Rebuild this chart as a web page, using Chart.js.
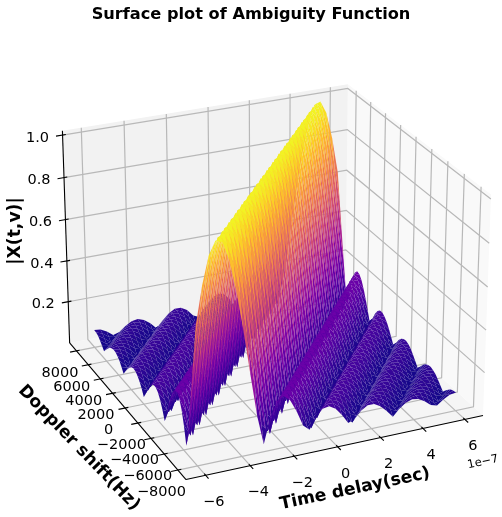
<!DOCTYPE html>
<html>
<head>
<meta charset="utf-8">
<script src="https://cdn.jsdelivr.net/npm/chart.js@4/dist/chart.umd.min.js"></script>
<style>
  html, body { margin: 0; padding: 0; background: #fff; }
  canvas { display: block; }
</style>
</head>
<body>
<canvas id="surface-chart" width="502" height="517"></canvas>
<script>
// tick labels, delay in units of 1e-7 s
const delayTicks = [-6, -4, -2, 0, 2, 4, 6];
const dopplerTicks = [-8000, -6000, -4000, -2000, 0, 2000, 4000, 6000, 8000];
const ampTicks = [0.2, 0.4, 0.6, 0.8, 1.0];

// surface sample positions
const delayGrid = [-6, -5.7, -5.4, -5.1, -4.8, -4.5, -4.2, -3.9, -3.6, -3.3, -3, -2.7, -2.4, -2.1,
    -1.8, -1.5, -1.2, -0.9, -0.6, -0.3, 0, 0.3, 0.6, 0.9, 1.2, 1.5, 1.8, 2.1,
    2.4, 2.7, 3, 3.3, 3.6, 3.9, 4.2, 4.5, 4.8, 5.1, 5.4, 5.7, 6];
const dopplerGrid = [-8000, -7680, -7360, -7040, -6720, -6400, -6080, -5760, -5440, -5120, -4800, -4480, -4160,
    -3840, -3520, -3200, -2880, -2560, -2240, -1920, -1600, -1280, -960, -640, -320, 0,
    320, 640, 960, 1280, 1600, 1920, 2240, 2560, 2880, 3200, 3520, 3840, 4160,
    4480, 4800, 5120, 5440, 5760, 6080, 6400, 6720, 7040, 7360, 7680, 8000];
// where the ridge crest sits in delay, one entry per doppler row
const ridgeCentre = [-5, -4.8, -4.6, -4.4, -4.2, -4, -3.8, -3.6, -3.4, -3.2, -3, -2.8, -2.6,
    -2.4, -2.2, -2, -1.8, -1.6, -1.4, -1.2, -1, -0.8, -0.6, -0.4, -0.2, 0,
    0.2, 0.4, 0.6, 0.8, 1, 1.2, 1.4, 1.6, 1.8, 2, 2.2, 2.4, 2.6,
    2.8, 3, 3.2, 3.4, 3.6, 3.8, 4, 4.2, 4.4, 4.6, 4.8, 5];
// |X| against distance from the crest, one entry per 0.1 of delay
const ridgeProfile = [
    1, 0.996, 0.984, 0.963, 0.936, 0.9, 0.858, 0.81, 0.757, 0.699,
    0.637, 0.572, 0.505, 0.436, 0.368, 0.3, 0.234, 0.17, 0.109, 0.06,
    0.03, 0.075, 0.115, 0.15, 0.178, 0.201, 0.218, 0.23, 0.235, 0.236,
    0.231, 0.223, 0.21, 0.193, 0.174, 0.153, 0.129, 0.104, 0.079, 0.055,
    0.03, 0.052, 0.072, 0.09, 0.107, 0.12, 0.131, 0.139, 0.143, 0.145,
    0.144, 0.141, 0.134, 0.126, 0.116, 0.104, 0.09, 0.076, 0.061, 0.045,
    0.03, 0.044, 0.059, 0.071, 0.083, 0.092, 0.1, 0.107, 0.11, 0.112,
    0.112, 0.11, 0.106, 0.1, 0.093, 0.084, 0.074, 0.064, 0.053, 0.042,
    0.03, 0.041, 0.052, 0.062, 0.071, 0.078, 0.084, 0.089, 0.092, 0.094,
    0.094, 0.092, 0.089, 0.085, 0.08, 0.072, 0.065, 0.057, 0.048, 0.039,
    0.03, 0.039, 0.047, 0.055, 0.062, 0.069, 0.074, 0.078, 0.08, 0.082, 0.082];

const plasma = ['#0d0887', '#41049d', '#6a00a8', '#8f0da4', '#b12a90', '#cc4778', '#e16462', '#f2844b', '#fca636', '#fcce25', '#f0f921'];

const xLim = [-6.875, 6.875], yLim = [-9167, 9167], zLim = [-0.005, 1.02];
const elev = 25 * Math.PI / 180, azim = -114 * Math.PI / 180;
const box = [1.143, 1.143, 0.857];
const centerX = 271, centerY = 272, pxScale = 2787, areaTop = 25;

const n = [Math.cos(elev) * Math.cos(azim), Math.cos(elev) * Math.sin(azim), Math.sin(elev)];
const right = [-Math.sin(azim), Math.cos(azim), 0];
const up = [-Math.sin(elev) * Math.cos(azim), -Math.sin(elev) * Math.sin(azim), Math.cos(elev)];

function project(x, y, z) {
    const d = [
        ((x - xLim[0]) / (xLim[1] - xLim[0]) - 0.5) * box[0],
        ((y - yLim[0]) / (yLim[1] - yLim[0]) - 0.5) * box[1],
        ((z - zLim[0]) / (zLim[1] - zLim[0]) - 0.5) * box[2]
    ];
    const dot = (a) => a[0] * d[0] + a[1] * d[1] + a[2] * d[2];
    const w = 10 - dot(n);
    return { x: dot(right) / w, y: dot(up) / w, w: w };
}

function plasmaColor(t) {
    const pos = Math.min(Math.max(t, 0), 1) * (plasma.length - 1);
    const i = Math.min(Math.floor(pos), plasma.length - 2);
    const f = pos - i;
    const ch = (hex, k) => parseInt(hex.substr(1 + k * 2, 2), 16);
    const c = [0, 1, 2].map(k => Math.round(ch(plasma[i], k) * (1 - f) + ch(plasma[i + 1], k) * f));
    return `rgb(${c[0]},${c[1]},${c[2]})`;
}

function ampAt(row, col) {
    const dist = Math.abs(delayGrid[col] - ridgeCentre[row]);
    return ridgeProfile[Math.round(dist * 10)];
}

// one filled dataset per surface cell, nearest first because Chart.js paints index 0 last
function surfaceDatasets() {
    const cells = [];
    for (let r = 0; r < dopplerGrid.length - 1; r++) {
        for (let c = 0; c < delayGrid.length - 1; c++) {
            const corners = [[r, c], [r, c + 1], [r + 1, c + 1], [r + 1, c]];
            const pts = corners.map(p => project(delayGrid[p[1]], dopplerGrid[p[0]], ampAt(p[0], p[1])));
            const meanZ = corners.reduce((s, p) => s + ampAt(p[0], p[1]), 0) / 4;
            const depth = pts.reduce((s, p) => s + p.w, 0) / 4;
            cells.push({ pts, depth, color: plasmaColor((meanZ - 0.03) / 0.97) });
        }
    }
    cells.sort((a, b) => a.depth - b.depth);
    return cells.map(cell => ({
        data: cell.pts.map(p => ({ x: p.x, y: p.y })).concat([{ x: cell.pts[0].x, y: cell.pts[0].y }]),
        showLine: true,
        fill: 'shape',
        backgroundColor: cell.color,
        borderWidth: 0,
        pointRadius: 0
    }));
}

function lineSet(points, color, width) {
    return {
        data: points.map(p => { const q = project(p[0], p[1], p[2]); return { x: q.x, y: q.y }; }),
        showLine: true,
        borderColor: color,
        borderWidth: width,
        pointRadius: 0
    };
}

function paneSet(points, color) {
    const set = lineSet(points.concat([points[0]]), color, 0);
    set.fill = 'shape';
    set.backgroundColor = color;
    return set;
}

function frameDatasets() {
    const [x0, x1] = xLim, [y0, y1] = yLim, [z0, z1] = zLim;
    const grid = '#b8b8b8', lines = [];
    const dxTick = (x1 - x0) * 0.022, dyTick = (y1 - y0) * 0.022;

    // black axis lines and tick marks
    lines.push(lineSet([[x0, y0, z0], [x1, y0, z0]], '#000', 1.1));
    lines.push(lineSet([[x0, y0, z0], [x0, y1, z0]], '#000', 1.1));
    lines.push(lineSet([[x0, y1, z0], [x0, y1, z1]], '#000', 1.1));
    delayTicks.forEach(t => lines.push(lineSet([[t, y0 + dyTick / 2, z0], [t, y0 - dyTick, z0]], '#000', 1.1)));
    dopplerTicks.forEach(t => lines.push(lineSet([[x0 + dxTick / 2, t, z0], [x0 - dxTick, t, z0]], '#000', 1.1)));
    ampTicks.forEach(t => lines.push(lineSet([[x0 + dxTick / 2, y1, t], [x0 - dxTick, y1, t]], '#000', 1.1)));

    // grid lines on the floor and the two walls
    delayTicks.forEach(t => lines.push(lineSet([[t, y0, z0], [t, y1, z0], [t, y1, z1]], grid, 1.2)));
    dopplerTicks.forEach(t => lines.push(lineSet([[x0, t, z0], [x1, t, z0], [x1, t, z1]], grid, 1.2)));
    ampTicks.forEach(t => lines.push(lineSet([[x0, y1, t], [x1, y1, t], [x1, y0, t]], grid, 1.2)));

    lines.push(paneSet([[x0, y1, z0], [x1, y1, z0], [x1, y1, z1], [x0, y1, z1]], '#f2f2f2'));
    lines.push(paneSet([[x1, y0, z0], [x1, y1, z0], [x1, y1, z1], [x1, y0, z1]], '#f9f9f9'));
    lines.push(paneSet([[x0, y0, z0], [x1, y0, z0], [x1, y1, z0], [x0, y1, z0]], '#f5f5f5'));
    return lines;
}

function tickText(t) {
    return String(t).replace('-', '\u2212');
}

const axisText = {
    id: 'axisText',
    afterDraw(chart) {
        const ctx = chart.ctx, sx = chart.scales.x, sy = chart.scales.y;
        const px = (x, y, z) => { const q = project(x, y, z); return [sx.getPixelForValue(q.x), sy.getPixelForValue(q.y)]; };
        const put = (text, x, y, font, rot) => {
            ctx.save();
            ctx.translate(x, y);
            ctx.rotate((rot || 0) * Math.PI / 180);
            ctx.font = font;
            ctx.fillStyle = '#000';
            ctx.textAlign = 'center';
            ctx.textBaseline = 'middle';
            ctx.fillText(text, 0, 0);
            ctx.restore();
        };
        const tickFont = '14.5px "DejaVu Sans"', labelFont = 'bold 17.2px "DejaVu Sans"';
        delayTicks.forEach(t => { const p = px(t, yLim[0], zLim[0]); put(tickText(t), p[0] + 8, p[1] + 27, tickFont); });
        dopplerTicks.forEach(t => { const p = px(xLim[0], t, zLim[0]); put(tickText(t), p[0] - 16.5, p[1] + 22, tickFont); });
        ampTicks.forEach(t => { const p = px(xLim[0], yLim[1], t); put(t.toFixed(1), p[0] - 25, p[1] + 3, tickFont); });
        put('1e\u22127', 483, 462, '11.5px "DejaVu Sans"', -12);
        put('Time delay(sec)', 355, 489, labelFont, -12);
        put('Doppler shift(Hz)', 79, 448, labelFont, 46);
        put('|X(t,v)|', 16, 231, labelFont, -90);
    }
};

new Chart(document.getElementById('surface-chart'), {
    type: 'scatter',
    data: { datasets: surfaceDatasets().concat(frameDatasets()) },
    options: {
        responsive: false,
        devicePixelRatio: 1,
        animation: false,
        events: [],
        layout: { autoPadding: false, padding: 0 },
        scales: {
            x: { display: false, min: (0 - centerX) / pxScale, max: (502 - centerX) / pxScale },
            y: { display: false, min: (centerY - 517) / pxScale, max: (centerY - areaTop) / pxScale }
        },
        plugins: {
            legend: { display: false },
            tooltip: { enabled: false },
            title: {
                display: true,
                text: 'Surface plot of Ambiguity Function',
                color: '#000',
                font: { family: '"DejaVu Sans"', size: 16.2, weight: 'bold', lineHeight: 1.2 },
                padding: { top: 5.5, bottom: 0.06 }
            }
        }
    },
    plugins: [axisText]
});
</script>
</body>
</html>
